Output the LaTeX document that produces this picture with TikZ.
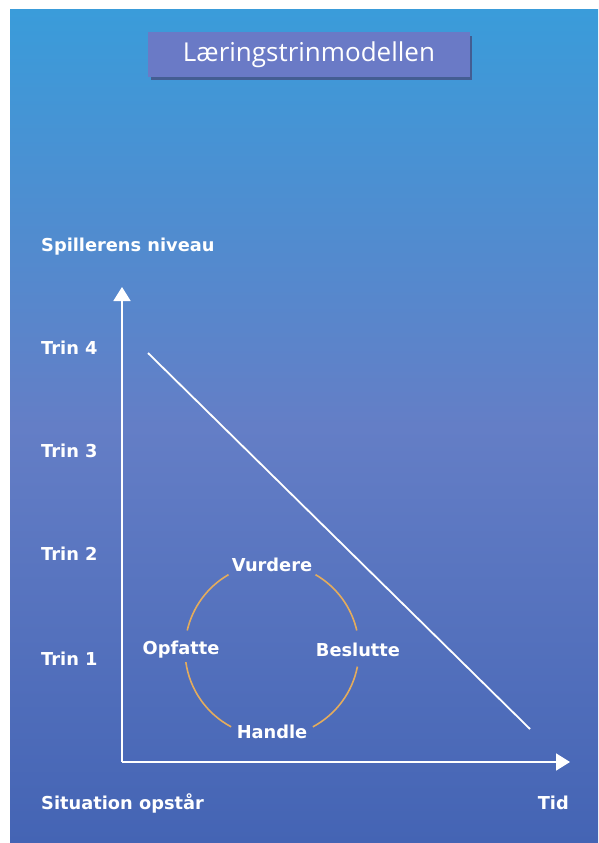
\documentclass[tikz,border=0pt]{standalone}
\usepackage{fontspec}
\setmainfont{Open Sans}
\newfontfamily\lblfont{DejaVu Sans}
\usepackage{xcolor}
\usetikzlibrary{arrows.meta,positioning,shadows}
\definecolor{bgtop}{RGB}{58,156,218}
\definecolor{bgmid}{RGB}{100,126,198}
\definecolor{bgbot}{RGB}{68,100,180}
\definecolor{titlefill}{RGB}{106,122,198}
\definecolor{ringcol}{RGB}{228,172,92}

\begin{document}
\begin{tikzpicture}[x=1pt,y=1pt,yscale=-1,
  lbl/.style={text=white,font=\lblfont\fontsize{17.8}{20}\selectfont\bfseries,inner sep=1pt},
  titlebox/.style={fill=titlefill,minimum width=322,minimum height=45,text=white,
    font=\fontsize{26}{29}\selectfont},
  axis/.style={draw=white,line width=1.8pt,-{Triangle[width=17pt,length=14pt]}},
  ring/.style={draw=ringcol,line width=1.6pt}]
\useasboundingbox (0,0) rectangle (598,843);

% background
\fill[top color=bgtop,bottom color=bgbot,middle color=bgmid] (10,10) rectangle (598,843);

% title with its shadow
\fill[black!35!titlefill,opacity=.8] (151,36) rectangle (472,80);
\node[titlebox] (title) at (309,54.5) {Læringstrinmodellen};

% axes
\coordinate (origo) at (122,762);
\coordinate (ytop) at (122,287);
\coordinate (xend) at (570,762);
\draw[axis] (origo) -- (ytop);
\draw[axis] (origo) -- (xend);

% axis texts
\node[lbl,anchor=west] (niveau) at (40,247) {Spillerens niveau};
\node[lbl,anchor=west] (trin4) at (40,348) {Trin 4};
\node[lbl,anchor=west] (trin3) at (40,451) {Trin 3};
\node[lbl,anchor=west] (trin2) at (40,554) {Trin 2};
\node[lbl,anchor=west] (trin1) at (40,659) {Trin 1};
\node[lbl,anchor=west] (situation) at (40,803) {Situation opstår};
\node[lbl,anchor=east] (tid) at (570,803) {Tid};

% diagonal
\coordinate (dstart) at (148,353);
\coordinate (dend) at (530,729);
\draw[white,line width=1.8pt] (dstart) -- (dend);

% cycle
\coordinate (cyc) at (272,650);
\node[lbl] (vurdere) at ([yshift=-85]cyc) {Vurdere};
\node[lbl] (handle) at ([yshift=82]cyc) {Handle};
\node[lbl] (opfatte) at ([xshift=-91]cyc) {Opfatte};
\node[lbl] (beslutte) at ([xshift=86]cyc) {Beslutte};
\draw[ring] ([shift={(-13:87)}]cyc) arc[start angle=-13,end angle=-60,radius=87];
\draw[ring] ([shift={(11:87)}]cyc) arc[start angle=11,end angle=62,radius=87];
\draw[ring] ([shift={(118:87)}]cyc) arc[start angle=118,end angle=172,radius=87];
\draw[ring] ([shift={(-167:87)}]cyc) arc[start angle=-167,end angle=-120,radius=87];
\end{tikzpicture}
\end{document}
